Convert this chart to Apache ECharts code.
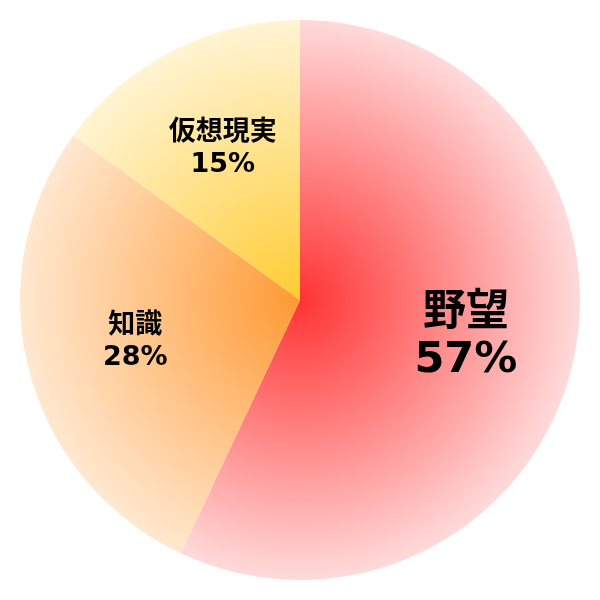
<!DOCTYPE html>
<html><head><meta charset="utf-8">
<script src="https://cdn.jsdelivr.net/npm/echarts@6/dist/echarts.min.js"></script>
<style>html,body{margin:0;padding:0;background:#fff}#c{width:600px;height:600px}</style>
</head><body><div id="c"></div>
<script>
const categories = ['野望', '知識', '仮想現実'];
const values = [57, 28, 15];
const centerColors = ['#ff3333', '#ff9933', '#ffcc33'];
const edgeColors = ['#ffdada', '#ffe8d0', '#fff4d4'];
const labelSizes = [43, 27, 27];
const labelLineHeights = [47, 32, 32];

const chart = echarts.init(document.getElementById('c'));
function grad(i) {
  return {type: 'radial', x: 300, y: 300, r: 280, global: true,
    colorStops: [{offset: 0, color: centerColors[i]}, {offset: 1, color: edgeColors[i]}]};
}
const pieData = categories.map((n, i) => ({name: n, value: values[i], itemStyle: {color: grad(i)}}));
const labelData = categories.map((n, i) => ({name: n, value: values[i],
  label: {fontSize: labelSizes[i], lineHeight: labelLineHeights[i]}}));
chart.setOption({
  animation: false,
  series: [
    {type: 'pie', center: ['50%', '50%'], radius: [0, 280], startAngle: 90, clockwise: true,
     label: {show: false}, labelLine: {show: false}, silent: true,
     itemStyle: {borderWidth: 0}, data: pieData},
    {type: 'pie', center: ['50%', '50%'], radius: [54, 280], startAngle: 90, clockwise: true,
     silent: true, itemStyle: {color: 'rgba(0,0,0,0)', borderWidth: 0},
     label: {show: true, position: 'inside', formatter: '{b}\n{c}%', color: '#000',
       fontWeight: 'bold', fontFamily: 'DejaVu Sans, Noto Sans CJK JP', align: 'center'},
     labelLine: {show: false}, data: labelData}
  ]
});
</script></body></html>
